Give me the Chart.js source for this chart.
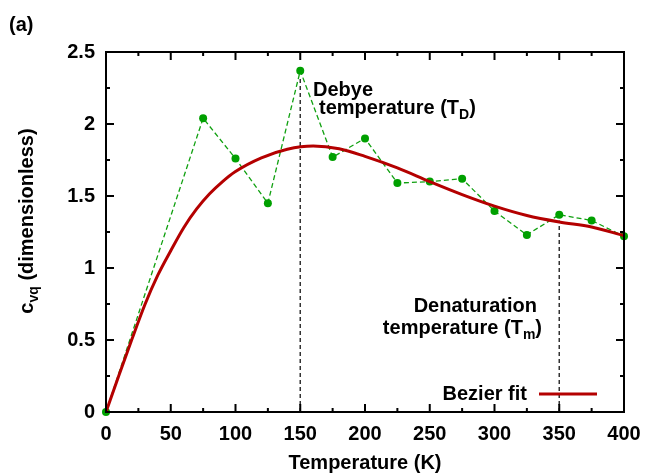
<!DOCTYPE html>
<html>
<head>
<meta charset="utf-8">
<script src="https://cdn.jsdelivr.net/npm/chart.js@4.4.0/dist/chart.umd.min.js"></script>
<style>
html, body { margin: 0; padding: 0; background: #fff; }
</style>
</head>
<body>
<canvas id="line-chart" width="645" height="475"></canvas>
<script>
// measured points
var temps = [0, 75, 100, 125, 150, 175, 200, 225, 250, 275, 300, 325, 350, 375, 400];
var cvq = [0, 2.04, 1.76, 1.45, 2.37, 1.77, 1.90, 1.59, 1.60, 1.62, 1.395, 1.23, 1.37, 1.33, 1.22];

// bezier fit
var fitT = [0, 10, 20, 30, 40, 50, 60, 70, 80, 90, 100, 120, 140, 160, 180, 200, 225, 250, 275, 300, 325, 350, 375, 400];
var fitC = [0, 0.255, 0.505, 0.745, 0.95, 1.12, 1.28, 1.41, 1.515, 1.60, 1.67, 1.765, 1.825, 1.847, 1.828, 1.775, 1.695, 1.60, 1.51, 1.43, 1.365, 1.32, 1.285, 1.225];

// debye and denaturation markers
var markT = [150, 350];

var xTicks = [0, 50, 100, 150, 200, 250, 300, 350, 400];
var xMinor = [25, 75, 125, 175, 225, 275, 325, 375];
var yTicks = [0, 0.5, 1, 1.5, 2, 2.5];
var yMinor = [0.25, 0.75, 1.25, 1.75, 2.25];

var FONT = "'Liberation Sans', Arial, sans-serif";

function pts(xs, ys) {
	return xs.map(function (x, i) { return { x: x, y: ys[i] }; });
}

var markSets = markT.map(function (t) {
	return {
		label: 'mark' + t,
		data: [{ x: t, y: 0 }, { x: t, y: cvq[temps.indexOf(t)] - 0.04 }],
		borderColor: '#333333',
		borderWidth: 1.5,
		borderDash: [4, 3],
		pointRadius: 0,
		fill: false,
		order: 3
	};
});

// draw text with an optional subscript piece
function subText(ctx, parts, x, y, align) {
	var w = 0;
	parts.forEach(function (p) {
		ctx.font = 'bold ' + (p[1] ? 14 : 20) + 'px ' + FONT;
		w += ctx.measureText(p[0]).width;
	});
	var cx = x;
	if (align === 'center') cx = x - w / 2;
	if (align === 'right') cx = x - w;
	ctx.textAlign = 'left';
	ctx.textBaseline = 'alphabetic';
	parts.forEach(function (p) {
		ctx.font = 'bold ' + (p[1] ? 14 : 20) + 'px ' + FONT;
		ctx.fillText(p[0], cx, y + (p[1] ? 5 : 0));
		cx += ctx.measureText(p[0]).width;
	});
}

var frame = {
	id: 'frame',
	afterDraw: function (chart) {
		var ctx = chart.ctx;
		var a = chart.chartArea;
		var xs = chart.scales.x, ys = chart.scales.y;
		ctx.save();
		ctx.strokeStyle = '#000';
		ctx.lineWidth = 2;
		ctx.strokeRect(a.left, a.top, a.right - a.left, a.bottom - a.top);
		ctx.beginPath();
		function xt(v, len) {
			var px = xs.getPixelForValue(v);
			ctx.moveTo(px, a.bottom); ctx.lineTo(px, a.bottom - len);
			ctx.moveTo(px, a.top); ctx.lineTo(px, a.top + len);
		}
		function yt(v, len) {
			var py = ys.getPixelForValue(v);
			ctx.moveTo(a.left, py); ctx.lineTo(a.left + len, py);
			ctx.moveTo(a.right, py); ctx.lineTo(a.right - len, py);
		}
		xTicks.forEach(function (v) { xt(v, 8); });
		xMinor.forEach(function (v) { xt(v, 4); });
		yTicks.forEach(function (v) { yt(v, 8); });
		yMinor.forEach(function (v) { yt(v, 4); });
		ctx.stroke();

		ctx.fillStyle = '#000';
		ctx.font = 'bold 20px ' + FONT;
		ctx.textAlign = 'left';
		ctx.fillText('(a)', 9, 31);

		subText(ctx, [['Debye', 0]], 313, 96, 'left');
		subText(ctx, [['temperature (T', 0], ['D', 1], [')', 0]], 319, 114, 'left');
		subText(ctx, [['Denaturation', 0]], 537, 312, 'right');
		subText(ctx, [['temperature (T', 0], ['m', 1], [')', 0]], 542, 334, 'right');

		// key
		var fit = chart.data.datasets[0];
		subText(ctx, [[fit.label, 0]], 527, 400, 'right');
		ctx.strokeStyle = fit.borderColor;
		ctx.lineWidth = 3;
		ctx.beginPath();
		ctx.moveTo(539, 394); ctx.lineTo(597, 394);
		ctx.stroke();

		// y title
		ctx.translate(26, 221);
		ctx.rotate(-Math.PI / 2);
		ctx.fillStyle = '#000';
		subText(ctx, [['c', 0], ['vq', 1], [' (dimensionless)', 0]], 0, 7, 'center');
		ctx.restore();
	}
};

var chart = new Chart(document.getElementById('line-chart'), {
	type: 'line',
	data: {
		datasets: [
			{
				label: 'Bezier fit',
				data: pts(fitT, fitC),
				borderColor: '#b40000',
				borderWidth: 3,
				pointRadius: 0,
				fill: false,
				cubicInterpolationMode: 'monotone',
				order: 1
			},
			{
				label: 'cvq',
				data: pts(temps, cvq),
				borderColor: '#10a010',
				backgroundColor: '#00a000',
				borderWidth: 1.3,
				borderDash: [5, 3],
				pointRadius: 4,
				pointBorderWidth: 0,
				fill: false,
				tension: 0,
				clip: false,
				order: 2
			}
		].concat(markSets)
	},
	options: {
		responsive: false,
		animation: false,
		layout: { padding: { left: 0, top: 52, right: 21, bottom: 0 } },
		plugins: {
			legend: { display: false },
			tooltip: { enabled: false }
		},
		scales: {
			x: {
				type: 'linear',
				min: 0,
				max: 400,
				afterBuildTicks: function (s) { s.ticks = xTicks.map(function (v) { return { value: v }; }); },
				afterFit: function (s) { s.height = 63; s.paddingLeft = 0; s.paddingRight = 0; },
				grid: { display: false, drawTicks: false },
				border: { display: false },
				ticks: { color: '#000', font: { family: FONT, size: 20, weight: 'bold' }, padding: 10, maxRotation: 0 },
				title: { display: true, text: 'Temperature (K)', color: '#000', font: { family: FONT, size: 20, weight: 'bold' }, padding: { top: 4, bottom: 0 } }
			},
			y: {
				min: 0,
				max: 2.5,
				afterBuildTicks: function (s) { s.ticks = yTicks.map(function (v) { return { value: v }; }); },
				afterFit: function (s) { s.width = 106; s.paddingTop = 0; s.paddingBottom = 0; },
				grid: { display: false, drawTicks: false },
				border: { display: false },
				ticks: {
					color: '#000',
					font: { family: FONT, size: 20, weight: 'bold' },
					padding: 11,
					callback: function (v) { return String(v); }
				}
			}
		}
	},
	plugins: [frame]
});
</script>
</body>
</html>
